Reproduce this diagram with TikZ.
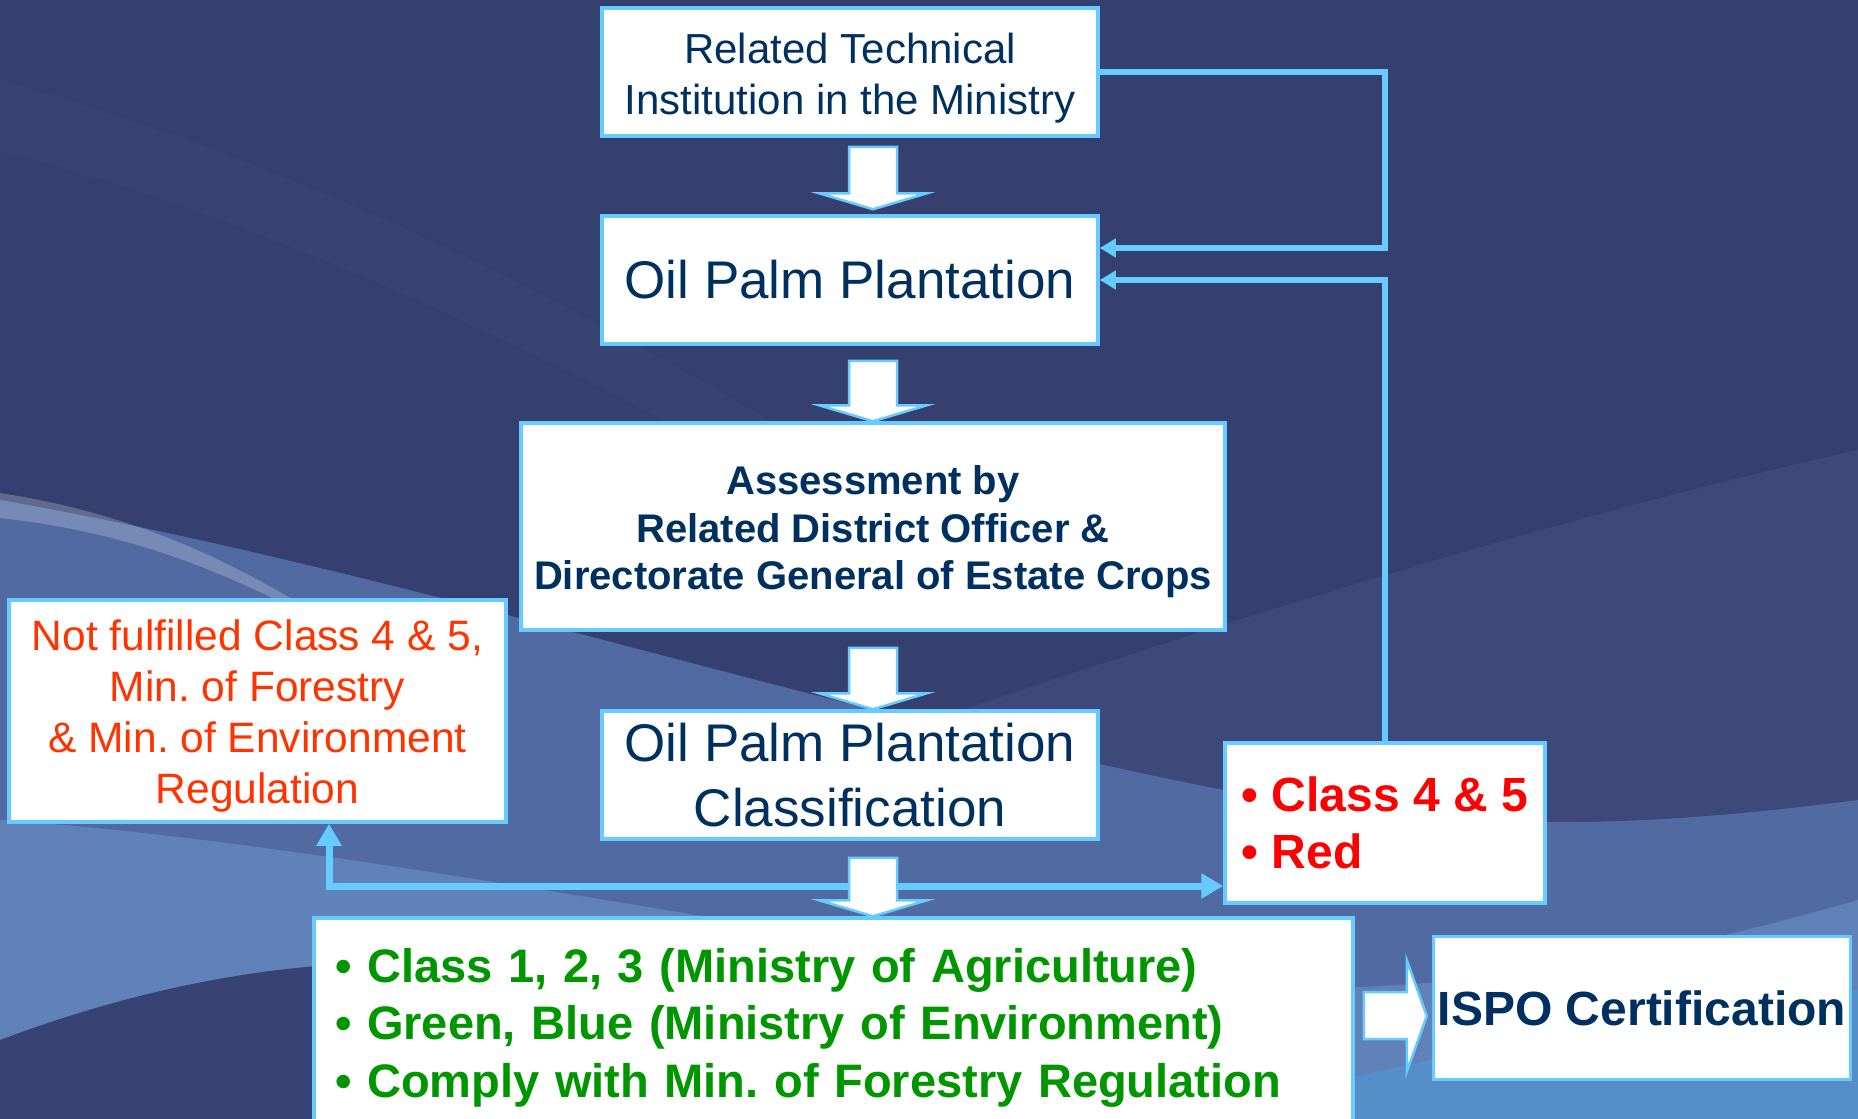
\documentclass[tikz,border=0pt]{standalone}
\usepackage{fontspec}
\setmainfont{Liberation Sans}
\usetikzlibrary{arrows.meta,calc}
\frenchspacing

\definecolor{bgnavy}{RGB}{53,63,112}
\definecolor{bgsoft}{RGB}{60,73,122}
\definecolor{bgmid}{RGB}{82,106,162}
\definecolor{bglight}{RGB}{104,140,196}
\definecolor{bgsky}{RGB}{84,146,206}
\definecolor{linkblue}{RGB}{102,204,255}
\definecolor{navytext}{RGB}{0,48,96}
\definecolor{nfred}{RGB}{255,51,0}
\definecolor{clsred}{RGB}{255,0,0}
\definecolor{okgreen}{RGB}{0,150,0}

\tikzset{
  box/.style={draw=linkblue, line width=3.5pt, fill=white, align=center, inner sep=0pt},
  link/.style={draw=linkblue, line width=5.5pt, -{Triangle[length=16pt,width=18pt]}},
  biglink/.style={draw=linkblue, line width=7pt, -{Triangle[length=22pt,width=24pt]}},
  blockarrow/.style={fill=white, draw=linkblue, line width=2.5pt, line join=miter},
}

% strut on a first line, to set multi-line text a little lower
\newcommand{\toplift}[1]{\rule{0pt}{#1em}}

% down block arrow between two boxes, on the axis of the assessment box
\newcommand{\flowarrow}[4]{%
  \path[blockarrow] let \p1=(#1.south), \p2=(#2.north), \p3=(assess.center) in
    (\x3-24pt,\y1-#3pt) -- (\x3+24pt,\y1-#3pt) -- (\x3+24pt,\y2+#4pt+16pt)
    -- (\x3+54pt,\y2+#4pt+16pt) -- (\x3,\y2+#4pt) -- (\x3-54pt,\y2+#4pt+16pt)
    -- (\x3-24pt,\y2+#4pt+16pt) -- cycle;}

\begin{document}
\begin{tikzpicture}[x=1pt,y=-1pt]
	\useasboundingbox (0,0) rectangle (1858,1119);
	\clip (0,0) rectangle (1858,1119);

	% background
	\fill[bgnavy] (0,0) rectangle (1858,1119);
	\fill[white, opacity=.022] (0,150) .. controls (300,230) and (550,360) .. (760,470) -- (820,450) .. controls (600,320) and (350,180) .. (0,80) -- cycle;
	\fill[bgsoft] (700,800) .. controls (1100,660) and (1500,530) .. (1858,450) -- (1858,1119) -- (700,1119) -- cycle;
	\fill[bgmid] (0,500) .. controls (400,570) and (850,720) .. (1250,795) .. controls (1500,840) and (1700,820) .. (1858,800) -- (1858,1119) -- (0,1119) -- cycle;
	\fill[bglight, opacity=.7] (0,820) .. controls (300,840) and (700,920) .. (1100,980) .. controls (1400,1010) and (1650,960) .. (1858,900) -- (1858,1119) -- (0,1119) -- cycle;
	\fill[bgsky, opacity=.8] (1300,1090) .. controls (1500,1040) and (1700,1010) .. (1858,990) -- (1858,1119) -- (1300,1119) -- cycle;
	\fill[white, opacity=.22] (0,493) .. controls (110,510) and (200,545) .. (290,598) -- (300,612) .. controls (200,560) and (110,530) .. (0,518) -- cycle;
	\fill[bgnavy!90!bgmid] (0,1040) .. controls (120,995) and (230,972) .. (330,965) -- (330,1119) -- (0,1119) -- cycle;

	% boxes
	\node[box, font=\fontsize{42}{51}\selectfont, text=navytext, minimum width=496pt, minimum height=128pt] (tech) at (850,72) {\toplift{1}Related Technical\\Institution in the Ministry};
	\node[box, font=\fontsize{53}{65}\selectfont, text=navytext, minimum width=496pt, minimum height=128pt] (plant) at (850,280) {Oil Palm Plantation};
	\node[box, font=\fontsize{40}{47.5}\selectfont\bfseries, text=navytext, minimum width=704pt, minimum height=207pt] (assess) at (873,526.5) {\toplift{1}Assessment by\\Related District Officer \&\\Directorate General of Estate Crops};
	\node[box, font=\fontsize{53}{65}\selectfont, text=navytext, minimum width=496pt, minimum height=128pt] (classif) at (850,775) {Oil Palm Plantation\\Classification};
	\node[box, font=\fontsize{42.5}{51}\selectfont, text=nfred, minimum width=497pt, minimum height=222pt] (nf) at (257.5,711) {\toplift{0.98}Not fulfilled Class 4 \& 5,\\Min. of Forestry\\\& Min. of Environment\\Regulation};
	\node[box, font=\fontsize{48}{57}\selectfont\bfseries, text=clsred, align=left, minimum width=320pt, minimum height=160pt] (cls45) at (1385,823) {• Class 4 \& 5\\• Red};
	\node[box, font=\fontsize{47}{57.5}\selectfont\bfseries, text=okgreen, align=left, text width=997pt, inner xsep=21pt, minimum height=210pt] (comply) at (833.5,1023) {\toplift{0.93}• Class 1, 2, 3 (Ministry of Agriculture)\\• Green, Blue (Ministry of Environment)\\• Comply with Min. of Forestry Regulation};
	\node[box, font=\fontsize{48}{57}\selectfont\bfseries, text=navytext, minimum width=417pt, minimum height=143pt] (ispo) at (1642,1008) {ISPO Certification};

	% feedback lines
	\draw[link] (tech.east) -- (tech.east -| cls45.north) |- ([yshift=32pt]plant.east);
	\draw[link] (cls45.north) |- (plant.east);
	\coordinate (split) at (873,886);
	\coordinate (upfoot) at (329,886);
	\draw[biglink] (split) -- (split -| cls45.west);
	\draw[biglink] (split) -- (upfoot) -- (upfoot |- nf.south);

	% block arrows
	\flowarrow{tech}{plant}{9}{5}
	\flowarrow{plant}{assess}{15}{0}
	\flowarrow{assess}{classif}{16}{0}
	\flowarrow{classif}{comply}{17}{0}
	\path[blockarrow] let \p1=(comply.east), \p2=(ispo.west) in
		(\x1+9pt,-992pt) -- (\x2-25pt,-992pt) -- (\x2-25pt,-960pt) -- (\x2-5pt,-1016pt)
		-- (\x2-25pt,-1072pt) -- (\x2-25pt,-1039pt) -- (\x1+9pt,-1039pt) -- cycle;
\end{tikzpicture}
\end{document}
